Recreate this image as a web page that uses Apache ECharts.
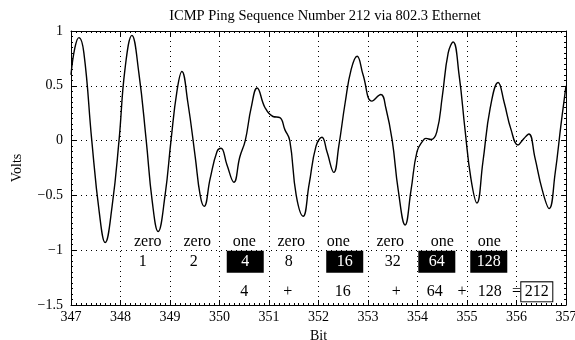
<!DOCTYPE html>
<html>
<head>
<meta charset="utf-8">
<script src="https://cdn.jsdelivr.net/npm/echarts@6/dist/echarts.min.js"></script>
<style>
  html, body { margin: 0; padding: 0; background: #fff; }
  #chart1 { width: 575px; height: 340px; }
</style>
</head>
<body>
<div id="chart1"></div>
<script>
// waveform samples (bit, volts)
const bitTime = [
  347.00, 347.08, 347.16, 347.26, 347.42, 347.57, 347.69, 347.83, 347.97, 348.09,
  348.23, 348.37, 348.52, 348.64, 348.76, 348.90, 349.02, 349.14, 349.24, 349.36,
  349.51, 349.61, 349.69, 349.81, 349.95, 350.03, 350.15, 350.29, 350.41, 350.52,
  350.64, 350.76, 350.92, 351.08, 351.22, 351.32, 351.42, 351.55, 351.69, 351.81,
  351.95, 352.07, 352.17, 352.31, 352.41, 352.54, 352.66, 352.78, 352.90, 353.08,
  353.26, 353.36, 353.49, 353.61, 353.75, 353.87, 353.99, 354.11, 354.17, 354.27,
  354.39, 354.50, 354.62, 354.72, 354.84, 354.96, 355.08, 355.20, 355.32, 355.47,
  355.63, 355.75, 355.89, 356.03, 356.15, 356.25, 356.37, 356.52, 356.66, 356.78,
  356.90, 357.00
];
const volts = [
  0.60, 0.85, 0.94, 0.80, 0.00, -0.65, -0.93, -0.60, 0.00, 0.65,
  0.96, 0.62, 0.00, -0.55, -0.83, -0.50, 0.00, 0.45, 0.63, 0.35,
  -0.15, -0.50, -0.60, -0.35, -0.10, -0.07, -0.22, -0.38, -0.15, 0.00,
  0.30, 0.48, 0.30, 0.22, 0.21, 0.10, 0.00, -0.50, -0.69, -0.40,
  -0.05, 0.03, -0.10, -0.29, -0.05, 0.35, 0.65, 0.77, 0.60, 0.36,
  0.42, 0.30, 0.00, -0.45, -0.77, -0.45, -0.10, 0.00, 0.02, 0.01,
  0.08, 0.40, 0.80, 0.90, 0.60, 0.10, -0.35, -0.57, -0.20, 0.30,
  0.53, 0.35, 0.10, -0.04, 0.02, 0.06, -0.15, -0.45, -0.62, -0.30,
  0.15, 0.50
];

// decoded bits
const bitWords = ['zero', 'zero', 'one', 'zero', 'one', 'zero', 'one', 'one'];
const bitWordX = [348.55, 349.55, 350.5, 351.45, 352.4, 353.45, 354.5, 355.45];
const weights = ['1', '2', '4', '8', '16', '32', '64', '128'];
const weightX = [348.45, 349.48, 350.52, 351.4, 352.53, 353.5, 354.39, 355.44];
const weightOn = [false, false, true, false, true, false, true, true];
const sumTerms = ['4', '+', '16', '+', '64', '+', '128', '='];
const sumX = [350.5, 351.38, 352.49, 353.57, 354.35, 354.9, 355.46, 356.0];
const total = '212';
const totalX = 356.41;

const rowWord = -0.92;
const rowWeight = -1.105;
const rowSum = -1.38;

const xTicks = [347, 348, 349, 350, 351, 352, 353, 354, 355, 356, 357];
const yTicks = [-1.5, -1, -0.5, 0, 0.5, 1];

const serif = '"Liberation Serif", "DejaVu Serif", serif';
const minus = v => String(v).replace('-', '\u2212');

const axisCommon = {
  axisLine: { show: true, onZero: false, lineStyle: { color: '#000', width: 1 } },
  axisTick: { show: true, inside: true, length: 5, lineStyle: { color: '#000' } },
  minorTick: { show: true, splitNumber: 10, length: 2, lineStyle: { color: '#000' } }
};

const wave = bitTime.map((t, i) => [t, volts[i]]);

const wordPts = bitWords.map((w, i) => ({ value: [bitWordX[i], rowWord], name: w }));
const weightPts = weights.map((w, i) => ({
  value: [weightX[i], rowWeight],
  name: w,
  label: weightOn[i]
    ? { color: '#fff', backgroundColor: '#000', width: 37, height: 22, lineHeight: 22, align: 'center' }
    : {}
}));
const sumPts = sumTerms.map((w, i) => ({ value: [sumX[i], rowSum], name: w }));
sumPts.push({
  value: [totalX, rowSum],
  name: total,
  label: { backgroundColor: '#fff', borderColor: '#000', borderWidth: 1, width: 31, height: 19, lineHeight: 19, align: 'center' }
});

const textLabel = {
  show: true,
  position: 'inside',
  formatter: p => p.name,
  fontFamily: serif,
  fontSize: 16,
  color: '#000'
};

const option = {
  animation: false,
  backgroundColor: '#fff',
  title: {
    text: 'ICMP Ping Sequence Number 212 via 802.3 Ethernet',
    left: 320,
    top: 4,
    textAlign: 'center',
    textStyle: { fontFamily: serif, fontSize: 14.5, fontWeight: 'normal', color: '#000' }
  },
  grid: { left: 71, right: 9, top: 31, bottom: 35, containLabel: false, outerBoundsMode: 'none' },
  xAxis: [
    Object.assign({
      type: 'value', min: xTicks[0], max: xTicks[xTicks.length - 1], interval: 1,
      name: 'Bit', nameLocation: 'middle', nameGap: 21,
      nameTextStyle: { fontFamily: serif, fontSize: 14, color: '#000' },
      axisLabel: { fontFamily: serif, fontSize: 14, color: '#000', margin: 5 },
      splitLine: { show: true, lineStyle: { color: '#000', type: [1, 4], width: 1 } }
    }, axisCommon),
    Object.assign({
      type: 'value', position: 'top', min: xTicks[0], max: xTicks[xTicks.length - 1], interval: 1,
      axisLabel: { show: false }, splitLine: { show: false }
    }, axisCommon)
  ],
  yAxis: [
    Object.assign({
      type: 'value', min: yTicks[0], max: yTicks[yTicks.length - 1], interval: 0.5,
      name: 'Volts', nameLocation: 'middle', nameGap: 47,
      nameTextStyle: { fontFamily: serif, fontSize: 14, color: '#000' },
      axisLabel: { fontFamily: serif, fontSize: 14, color: '#000', margin: 8, formatter: minus },
      splitLine: { show: true, lineStyle: { color: '#000', type: [1, 4], width: 1 } }
    }, axisCommon),
    Object.assign({
      type: 'value', position: 'right', min: yTicks[0], max: yTicks[yTicks.length - 1], interval: 0.5,
      axisLabel: { show: false }, splitLine: { show: false }
    }, axisCommon)
  ],
  series: [
    {
      name: 'trace',
      type: 'line',
      data: wave,
      smooth: 0.45,
      showSymbol: false,
      symbol: 'none',
      lineStyle: { color: '#000', width: 1.4 },
      z: 3
    },
    {
      name: 'words', type: 'scatter', symbolSize: 0, itemStyle: { opacity: 1 },
      data: wordPts, label: textLabel, z: 4
    },
    {
      name: 'weights', type: 'scatter', symbolSize: 0, itemStyle: { opacity: 1 },
      data: weightPts, label: textLabel, z: 4
    },
    {
      name: 'sum', type: 'scatter', symbolSize: 0, itemStyle: { opacity: 1 },
      data: sumPts, label: textLabel, z: 4
    }
  ]
};

const mycharts = echarts.init(document.getElementById('chart1'));
mycharts.setOption(option);
</script>
</body>
</html>
